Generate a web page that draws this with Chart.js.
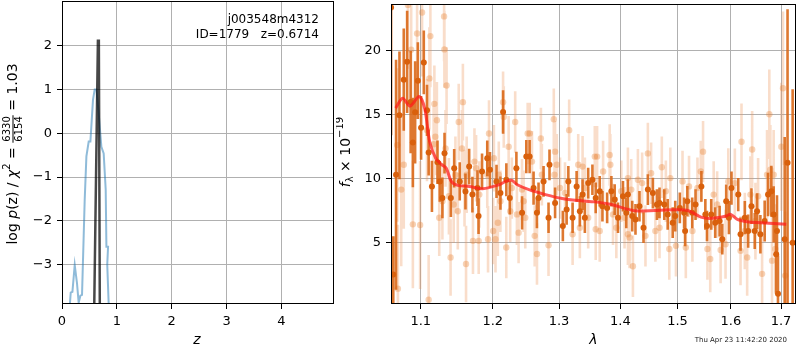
<!DOCTYPE html>
<html>
<head>
<meta charset="utf-8">
<script src="https://cdn.jsdelivr.net/npm/chart.js@4/dist/chart.umd.min.js"></script>
<style>
  body { margin: 0; background: #fff; }
  #wrap { position: relative; width: 800px; height: 350px; }
  canvas { position: absolute; top: 0; }
</style>
</head>
<body>
<div id="wrap">
  <canvas id="pz" width="340" height="350" style="left:0"></canvas>
  <canvas id="spec" width="464" height="350" style="left:336px"></canvas>
</div>
<script>
// ---- left panel: log p(z) ----
const zGrid = [0.138, 0.159, 0.19, 0.232, 0.273, 0.304, 0.335, 0.365, 0.414, 0.445, 0.487, 0.518, 0.565, 0.596, 0.627, 0.664, 0.718, 0.76, 0.797, 0.81, 0.84, 0.825, 0.86];
const logPz = [-4.0, -3.64, -3.62, -3.01, -3.42, -3.87, -3.71, -3.69, -1.52, -0.53, -0.19, -0.19, 0.76, 1.0, 1.0, 0.53, -0.31, -0.46, -1.29, -2.59, -2.59, -3.0, -4.2];
const zPeak = [0.585, 0.655, 0.672, 0.69];
const logPzPeak = [-4.2, 2.11, 2.11, -4.2];
const zTicks = [0, 1, 2, 3, 4];
const logPzTicks = [-3, -2, -1, 0, 1, 2];

// ---- right panel: spectrum ----
const darkWave = [1.0612, 1.064, 1.0676, 1.072, 1.0776, 1.082, 1.0866, 1.0895, 1.0925, 1.0961, 1.1004, 1.104, 1.1083, 1.1105, 1.1149, 1.1224, 1.1255, 1.1291, 1.132, 1.1407, 1.1453, 1.153, 1.161, 1.1662, 1.1708, 1.178, 1.1795, 1.1845, 1.192, 1.1959,
  1.2054, 1.2111, 1.215, 1.2198, 1.2249, 1.2347, 1.2432, 1.2496, 1.2546, 1.2606, 1.2657, 1.2682, 1.2759, 1.2836, 1.2851, 1.2938, 1.306, 1.312, 1.3147, 1.3215,
  1.3279, 1.3331, 1.3375, 1.3412, 1.3466, 1.3535, 1.3589, 1.3655, 1.37, 1.3778, 1.3849, 1.3904, 1.396, 1.4044, 1.41, 1.4128, 1.4202, 1.4258, 1.4327, 1.4397,
  1.4473, 1.4561, 1.4632, 1.4678, 1.4763, 1.4824, 1.4914, 1.496, 1.5043, 1.5121, 1.5139, 1.518, 1.527, 1.5331, 1.544, 1.5514, 1.5545, 1.5625, 1.57, 1.5784,
  1.5835, 1.591, 1.5962, 1.6012, 1.6143, 1.6188, 1.6272, 1.6338, 1.6403, 1.6468, 1.6515, 1.6581, 1.6667, 1.6735, 1.6802, 1.6849, 1.69, 1.6917, 1.6937, 1.7075,
  1.7134, 1.724];
const darkFlux = [23.4, 2.5, 10.31, 14.96, 17.75, 19.15, 16.0, 12.84, 15.2, 17.67, 13.98, 19.1, 15.35, 12.06, 9.4, 11.29, 9.79, 8.5, 12.0, 8.5, 10.82, 9.79, 9.0, 10.95, 8.76, 9.27, 7.08, 10.57, 11.6, 10.7,
  9.79, 8.88, 15.22, 9.92, 8.5, 10.82, 7.33, 11.73, 11.73, 9.27, 7.33, 8.5, 9.79, 6.95, 11.09, 8.11, 6.3, 7.6, 9.79, 6.95,
  9.4, 7.46, 8.76, 6.95, 9.66, 9.92, 8.5, 9.02, 7.85, 7.72, 9.02, 8.37, 6.95, 8.63, 7.33, 8.76, 7.08, 6.82, 7.85, 6.17,
  9.15, 8.88, 7.98, 8.11, 7.98, 7.21, 6.56, 7.08, 7.72, 7.33, 5.91, 8.24, 7.33, 7.98, 9.4, 7.21, 6.3, 7.21, 6.56, 6.69,
  5.27, 8.24, 6.95, 9.27, 8.76, 5.66, 6.95, 5.91, 7.85, 5.91, 7.46, 5.66, 6.69, 8.76, 9.02, 7.21, 4.1, 5.91, 1.0, 5.27,
  11.26, 5.0];
const darkErr = [10, 3, 9, 5, 4, 4, 4, 3.5, 4, 3, 2.5, 2.5, 2, 1.8, 2, 1.7, 1.6, 1.6, 1.6, 1.5, 1.5, 1.5, 1.4, 1.4, 1.4, 1.4, 1.4, 1.4, 1.4, 1.4,
  1.3, 1.3, 1.7, 1.3, 1.3, 1.3, 1.3, 1.3, 1.3, 1.3, 1.2, 1.2, 1.2, 1.2, 1.2, 1.2, 1.2, 1.2, 1.2, 1.2,
  1.2, 1.2, 1.2, 1.2, 1.2, 1.2, 1.2, 1.2, 1.2, 1.2, 1.2, 1.2, 1.2, 1.2, 1.2, 1.2, 1.2, 1.2, 1.2, 1.2,
  1.2, 1.2, 1.2, 1.2, 1.2, 1.2, 1.2, 1.2, 1.2, 1.2, 1.2, 1.2, 1.2, 1.2, 1.2, 1.2, 1.2, 1.2, 1.2, 1.2,
  1.2, 1.3, 1.3, 1.3, 1.3, 1.3, 1.3, 1.3, 1.4, 1.4, 1.4, 1.5, 1.6, 1.7, 2, 2.2, 3, 2.8, 3, 8,
  12, 12];

const lightWave = [1.0692, 1.0743, 1.0776, 1.0895, 1.0991, 1.0951, 1.1017, 1.0873, 1.1083, 1.1115, 1.1128, 1.1182, 1.1216, 1.1248, 1.1291, 1.1314, 1.1348, 1.1403, 1.147, 1.1503,
  1.1516, 1.1574, 1.1597, 1.07, 1.1105, 1.083, 1.1172, 1.1195, 1.1334, 1.138, 1.1446, 1.1561, 1.1627, 1.1618, 1.1318,
  1.1716, 1.1797, 1.1737, 1.176, 1.1945, 1.1931, 1.2006, 1.2039, 1.2073, 1.2016, 1.2087, 1.215, 1.216, 1.2197, 1.2232, 1.2255, 1.2329, 1.238, 1.2355, 1.2431,
  1.248, 1.2517, 1.2547, 1.2582, 1.2623, 1.2658, 1.2718, 1.2733, 1.2836, 1.1806, 1.2111, 1.2279, 1.2456, 1.192,
  1.2918, 1.316, 1.2938, 1.2964, 1.3016, 1.3094, 1.3215, 1.3331, 1.3305, 1.3375, 1.3574, 1.3612, 1.3589, 1.3655, 1.3711, 1.382, 1.3831, 1.3876, 1.3932, 1.4016,
  1.4128, 1.4071, 1.3466, 1.3412, 1.2928,
  1.4473, 1.4719, 1.5471, 1.4214, 1.4128, 1.4185, 1.43, 1.4373, 1.453, 1.4605, 1.4678, 1.4871, 1.4853, 1.4973, 1.5152, 1.5092, 1.5211, 1.5367, 1.5428, 1.5553,
  1.4791, 1.5274, 1.4431, 1.4156,
  1.6207, 1.6417, 1.6761, 1.704, 1.7006, 1.5606, 1.5803, 1.5737, 1.5671, 1.595, 1.6077, 1.5897, 1.6188, 1.6318, 1.6383, 1.6535, 1.6615, 1.6715, 1.6782, 1.6849,
  1.6816, 1.7086, 1.6883, 1.6482, 1.6272];
const lightFlux = [12.64, 9.15, 11.09, 6.43, 6.38, 21.36, 23.0, 20.1, 13.8, 17.85, 21.16, 15.86, 14.57, 6.95, 8.24, 22.7, 17.29, 3.84, 10.31, 7.46,
  14.44, 15.99, 9.27, 1.4, 0.54, 23.6, 12.7, 13.28, 12.37, 8.63, 7.98, 12.37, 10.31, 3.33, 20.12,
  5.14, 5.14, 11.34, 10.82, 13.54, 5.27, 5.91, 5.27, 6.56, 11.6, 10.31, 15.99, 14.83, 4.62, 12.5, 7.46, 14.44, 5.78, 7.21, 9.15,
  6.95, 13.54, 13.54, 11.34, 5.53, 4.11, 13.15, 10.31, 4.8, 8.76, 8.24, 9.27, 8.24, 10.31,
  14.65, 13.8, 12.12, 11.09, 9.27, 8.88, 5.66, 6.17, 11.09, 10.95, 11.73, 11.73, 6.05, 5.91, 10.57, 11.86, 11.09, 7.21, 6.17, 9.02,
  5.66, 6.95, 6.95, 9.27, 10.31,
  11.98, 10.9, 12.12, 3.15, 10.05, 9.15, 9.92, 9.66, 10.43, 5.91, 6.17, 10.05, 4.5, 4.75, 4.62, 9.79, 9.4, 9.27, 10.57, 4.5,
  9.02, 5.91, 5.53, 5.4,
  12.89, 12.29, 15.04, 17.08, 12.5, 3.72, 4.42, 7.98, 8.76, 9.79, 9.66, 4.88, 4.36, 3.84, 8.76, 8.63, 2.56, 10.31, 10.7, 10.31,
  3.59, 2.42, 4.5, 6.69, 5.91];
const lightErr = [6, 6, 5, 5, 5, 5, 5, 5, 4, 4, 4, 3, 3, 3, 3, 3.5, 3, 3, 3, 3,
  3, 3, 3, 5, 3.5, 5, 3, 3, 3, 3, 3, 3, 3, 3, 3,
  2.6, 2.6, 2.6, 2.6, 2.6, 2.6, 2.6, 2.6, 2.6, 2.6, 2.6, 2.4, 2.4, 2.4, 2.4, 2.4, 2.4, 2.4, 2.4, 2.4,
  2.4, 2.4, 2.4, 2.4, 2.4, 2.4, 2.4, 2.4, 2.4, 2.6, 2.4, 2.4, 2.4, 2.6,
  2.4, 2.4, 2.4, 2.4, 2.4, 2.4, 2.4, 2.4, 2.4, 2.4, 2.4, 2.4, 2.4, 2.4, 2.4, 2.4, 2.4, 2.4, 2.4, 2.4,
  2.4, 2.4, 2.4, 2.4, 2.4,
  2.4, 2.4, 2.4, 2.4, 2.4, 2.4, 2.4, 2.4, 2.4, 2.4, 2.4, 2.4, 2.4, 2.4, 2.4, 2.4, 2.4, 2.4, 2.4, 2.4,
  2.4, 2.4, 2.4, 2.4,
  3, 3, 3.5, 6, 5, 2.6, 2.6, 2.6, 2.6, 2.6, 2.7, 2.7, 2.7, 3, 3, 3, 3, 3.5, 3.5, 3.5,
  3.5, 5, 3.5, 3, 3];

const modelWave = [1.0671, 1.0761, 1.0856, 1.0978, 1.1053, 1.1119, 1.12, 1.1276, 1.1344, 1.1413, 1.1503, 1.1666, 1.1853, 1.2093, 1.219, 1.2278, 1.2361, 1.2536, 1.279, 1.3047,
  1.3311, 1.358, 1.3853, 1.4133, 1.4304, 1.4593, 1.4948, 1.5188, 1.5432, 1.5618, 1.5902, 1.5997, 1.6126, 1.632, 1.6583, 1.7108];
const modelFlux = [15.53, 16.3, 15.68, 16.43, 15.47, 12.89, 11.6, 11.13, 10.82, 9.79, 9.48, 9.4, 9.22, 9.53, 9.79, 9.87, 9.53, 9.15, 8.76, 8.45,
  8.29, 8.19, 7.98, 7.6, 7.47, 7.52, 7.57, 7.52, 7.0, 6.9, 7.08, 7.21, 6.82, 6.64, 6.56, 6.43];
const waveTicks = [1.1, 1.2, 1.3, 1.4, 1.5, 1.6, 1.7];
const fluxTicks = [5, 10, 15, 20];

Chart.defaults.font.family = 'DejaVu Sans';
Chart.defaults.font.size = 13;
Chart.defaults.color = '#000';

const gridColor = '#b0b0b0';

function pts(xs, ys) {
    return xs.map((x, i) => ({ x: x, y: ys[i] }));
}

function errSegments(w, f, e) {
    let out = [];
    w.forEach((x, i) => {
        out.push({ x: x, y: f[i] - e[i] }, { x: x, y: f[i] + e[i] }, { x: x, y: null });
    });
    return out;
}

function minus(v) {
    return v < 0 ? '\u2212' + Math.abs(v) : String(v);
}

function axis(extra) {
    return Object.assign({
        grid: { color: gridColor, lineWidth: 1, tickLength: 5, tickColor: '#000', tickWidth: 1 },
        border: { display: false },
    }, extra);
}

// box around the plot + all hand-placed texts
function frameAndText(draw) {
    return {
        id: 'frameAndText',
        afterDraw(chart) {
            const { ctx, chartArea: a } = chart;
            ctx.save();
            ctx.strokeStyle = '#000';
            ctx.lineWidth = 1;
            ctx.strokeRect(a.left + 0.5, a.top + 0.5, a.right - a.left - 1, a.bottom - a.top - 1);
            draw(ctx, a);
            ctx.restore();
        }
    };
}

function runs(ctx, parts, cx, cy) {
    // parts drawn left to right, centred on cx
    let total = 0;
    parts.forEach(p => { ctx.font = p.f; p.w = p.w || ctx.measureText(p.t).width; total += p.w; });
    let x = cx - total / 2;
    ctx.textBaseline = 'middle';
    ctx.textAlign = 'left';
    parts.forEach(p => {
        ctx.font = p.f;
        if (p.frac) {
            ctx.textAlign = 'center';
            ctx.fillText(p.frac[0], x + p.w / 2, cy - 6);
            ctx.fillText(p.frac[1], x + p.w / 2, cy + 6);
            ctx.fillRect(x, cy - 0.5, p.w, 1);
            ctx.textAlign = 'left';
        } else {
            ctx.fillText(p.t, x, cy + (p.dy || 0));
        }
        x += p.w;
    });
}

const N = '14px DejaVu Sans', I = 'italic 14px DejaVu Sans', S = '10px DejaVu Sans';

new Chart(document.getElementById('pz'), {
    type: 'scatter',
    data: {
        datasets: [
            { data: pts(zPeak, logPzPeak), showLine: true, borderColor: 'rgba(0,0,0,0.72)', borderWidth: 2.5, pointRadius: 0, order: 0 },
            { data: pts(zGrid, logPz), showLine: true, borderColor: 'rgba(31,119,180,0.5)', borderWidth: 2, pointRadius: 0, order: 1 },
        ]
    },
    options: {
        responsive: false, animation: false, events: [],
        layout: { padding: { top: 1, right: 6, left: 0, bottom: 0 } },
        plugins: { legend: { display: false }, tooltip: { enabled: false } },
        scales: {
            x: axis({
                type: 'linear', min: 0, max: 4.96,
                ticks: { padding: 5, callback: v => minus(v) },
                afterBuildTicks: s => { s.ticks = zTicks.map(v => ({ value: v })); },
                afterFit: s => { s.height = 46; s.paddingLeft = 0; s.paddingRight = 0; },
            }),
            y: axis({
                type: 'linear', min: -3.9, max: 3.02,
                ticks: { padding: 5, callback: v => minus(v) },
                afterBuildTicks: s => { s.ticks = logPzTicks.map(v => ({ value: v })); },
                afterFit: s => { s.width = 62; s.paddingTop = 0; s.paddingBottom = 0; },
            }),
        }
    },
    plugins: [frameAndText((ctx, a) => {
        ctx.fillStyle = '#000';
        ctx.font = '12px DejaVu Sans';
        ctx.textAlign = 'right';
        ctx.textBaseline = 'middle';
        ctx.fillText('j003548m4312', 319, 20);
        ctx.fillText('ID=1779   z=0.6714', 319, 34.5);
        ctx.font = I;
        ctx.textAlign = 'center';
        ctx.fillText('z', 197, 340);
        ctx.save();
        ctx.translate(13, 154);
        ctx.rotate(-Math.PI / 2);
        ctx.font = S;
        const fw = ctx.measureText('6330').width + 2;
        runs(ctx, [
            { t: 'log ', f: N }, { t: 'p', f: I }, { t: '(z) / ', f: N }, { t: '\u03c7', f: I },
            { t: '2', f: S, dy: -6 }, { t: ' = ', f: N },
            { t: '', f: S, frac: ['6330', '6154'], w: fw },
            { t: ' = 1.03', f: N }
        ], 0, 0);
        ctx.restore();
    })]
});

new Chart(document.getElementById('spec'), {
    type: 'scatter',
    data: {
        datasets: [
            { data: pts(modelWave, modelFlux), showLine: true, borderColor: 'rgba(255,25,25,0.72)', borderWidth: 3, pointRadius: 0, tension: 0.3, order: 0 },
            { data: pts(darkWave, darkFlux), backgroundColor: '#d9600c', borderWidth: 0, pointRadius: 3, order: 1 },
            { data: errSegments(darkWave, darkFlux, darkErr), showLine: true, spanGaps: false, borderColor: 'rgba(218,105,25,0.9)', borderWidth: 2.6, pointRadius: 0, order: 2 },
            { data: pts(lightWave, lightFlux), backgroundColor: 'rgba(232,128,50,0.35)', borderWidth: 0, pointRadius: 3.2, order: 3 },
            { data: errSegments(lightWave, lightFlux, lightErr), showLine: true, spanGaps: false, borderColor: 'rgba(235,150,90,0.32)', borderWidth: 2.6, pointRadius: 0, order: 4 },
        ]
    },
    options: {
        responsive: false, animation: false, events: [],
        layout: { padding: { top: 1, right: 1, left: 0, bottom: 0 } },
        plugins: { legend: { display: false }, tooltip: { enabled: false } },
        scales: {
            x: axis({
                type: 'logarithmic', min: 1.0611, max: 1.731,
                ticks: { padding: 5, callback: v => Number(v).toFixed(1) },
                afterBuildTicks: s => { s.ticks = waveTicks.map(v => ({ value: v })); },
                afterFit: s => { s.height = 46; s.paddingLeft = 0; s.paddingRight = 0; },
            }),
            y: axis({
                type: 'linear', min: 0.2, max: 23.67,
                ticks: { padding: 5 },
                afterBuildTicks: s => { s.ticks = fluxTicks.map(v => ({ value: v })); },
                afterFit: s => { s.width = 55; s.paddingTop = 0; s.paddingBottom = 0; },
            }),
        }
    },
    plugins: [frameAndText((ctx, a) => {
        ctx.fillStyle = '#000';
        ctx.font = I;
        ctx.textAlign = 'center';
        ctx.textBaseline = 'middle';
        ctx.fillText('\u03bb', 257.5, 340);
        ctx.font = '7px DejaVu Sans';
        ctx.textAlign = 'right';
        ctx.fillStyle = '#222';
        ctx.fillText('Thu Apr 23 11:42:20 2020', 451, 340);
        ctx.fillStyle = '#000';
        ctx.save();
        ctx.translate(10, 152);
        ctx.rotate(-Math.PI / 2);
        runs(ctx, [
            { t: 'f', f: I }, { t: '\u03bb', f: S, dy: 4 }, { t: ' \u00d7 10', f: N }, { t: '\u221219', f: S, dy: -6 }
        ], 0, 0);
        ctx.restore();
    })]
});
</script>
</body>
</html>
